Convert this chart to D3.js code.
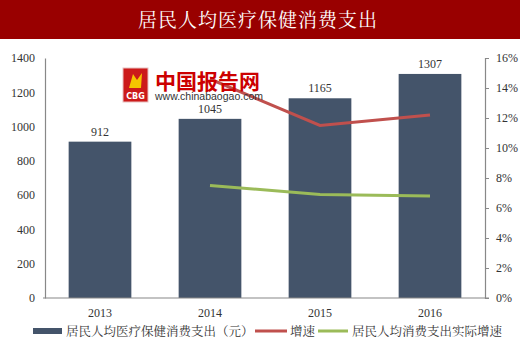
<!DOCTYPE html>
<html>
<head>
<meta charset="utf-8">
<script src="https://cdn.jsdelivr.net/npm/d3@7"></script>
<style>
  body { margin: 0; background: #fff; }
  svg { display: block; }
</style>
</head>
<body>
<div id="drawing"></div>
<script>
// data
var years = ["2013", "2014", "2015", "2016"];
var spending = [912, 1045, 1165, 1307];
var growth = [null, 14.6, 11.5, 12.2];
var realGrowth = [null, 7.5, 6.9, 6.8];
var leftTicks = [0, 200, 400, 600, 800, 1000, 1200, 1400];
var rightTicks = [0, 2, 4, 6, 8, 10, 12, 14, 16];
var legendNames = ["居民人均医疗保健消费支出（元）", "增速", "居民人均消费支出实际增速"];

var width = 520;
var height = 351;
var margin = {top: 58, right: 35, left: 45};
var serif = "'Liberation Serif', 'Noto Serif CJK SC', serif";
var cjk = "'Noto Sans CJK SC', sans-serif";

var svg = d3.select("#drawing").append("svg")
  .attr("width", width)
  .attr("height", height);

// title bar
svg.append("rect")
  .attr("x", 0).attr("y", 0)
  .attr("width", width).attr("height", 39)
  .attr("fill", "#990000");
svg.append("text")
  .attr("x", 258).attr("y", 27)
  .attr("text-anchor", "middle")
  .attr("fill", "#fff")
  .style("font-family", "'Noto Serif CJK SC', " + cjk)
  .style("font-size", "19px")
  .style("letter-spacing", "1px")
  .text("居民人均医疗保健消费支出");

var innerW = width - margin.left - margin.right;
var innerH = 298 - margin.top;

var g = svg.append("g")
  .attr("transform", `translate(${margin.left}, ${margin.top})`);

var x = d3.scaleBand().domain(years).range([0, innerW]).paddingInner(0.43).paddingOuter(0.215);
var yL = d3.scaleLinear().domain([0, 1400]).range([innerH, 0]);
var yR = d3.scaleLinear().domain([0, 16]).range([innerH, 0]);

// bars
g.selectAll("rect.bar")
  .data(spending)
  .join("rect")
  .attr("class", "bar")
  .attr("x", (d, i) => x(years[i]))
  .attr("y", d => yL(d))
  .attr("width", x.bandwidth())
  .attr("height", d => innerH - yL(d))
  .attr("fill", "#44546a");

g.selectAll("text.val")
  .data(spending)
  .join("text")
  .attr("class", "val")
  .attr("x", (d, i) => x(years[i]) + x.bandwidth() / 2)
  .attr("y", d => yL(d) - 6)
  .attr("text-anchor", "middle")
  .attr("fill", "#333")
  .style("font-family", serif)
  .style("font-size", "12px")
  .text(d => d);

// watermark
var wm = svg.append("g").attr("transform", "translate(123, 68)");
wm.append("rect").attr("width", 25).attr("height", 34).attr("fill", "#cc1a1a")
  .attr("stroke", "#e8c0c0").attr("stroke-width", 1);
wm.append("path").attr("d", "M6 20 L10 6 L14 12 L19 5 L18 20 Z").attr("fill", "#f5c400");
wm.append("text").attr("x", 12.5).attr("y", 31).attr("text-anchor", "middle")
  .attr("fill", "#fff").style("font-family", "'DejaVu Sans', sans-serif")
  .style("font-size", "8px").style("font-weight", "bold").text("CBG");
wm.append("text").attr("x", 32).attr("y", 21)
  .attr("fill", "#cc0000")
  .style("font-family", cjk).style("font-size", "21px").style("font-weight", "bold")
  .text("中国报告网");
wm.append("text").attr("x", 32).attr("y", 32)
  .attr("fill", "#333")
  .style("font-family", "'Liberation Sans', sans-serif").style("font-size", "10.5px")
  .text("www.chinabaogao.com");

// lines
var line = d3.line()
  .defined(d => d[1] != null)
  .x(d => x(d[0]) + x.bandwidth() / 2)
  .y(d => yR(d[1]));

g.append("path")
  .attr("d", line(years.map((yv, i) => [yv, growth[i]])))
  .attr("fill", "none").attr("stroke", "#c0504d").attr("stroke-width", 3);
g.append("path")
  .attr("d", line(years.map((yv, i) => [yv, realGrowth[i]])))
  .attr("fill", "none").attr("stroke", "#9bbb59").attr("stroke-width", 3);

// axes
var leftAxis = g.append("g")
  .call(d3.axisLeft(yL).tickValues(leftTicks).tickFormat(d3.format("d")).tickSize(0).tickPadding(10));
var rightAxis = g.append("g")
  .attr("transform", `translate(${innerW}, 0)`)
  .call(d3.axisRight(yR).tickValues(rightTicks).tickFormat(d => d + "%").tickSize(4).tickPadding(7));
var bottomAxis = g.append("g")
  .attr("transform", `translate(0, ${innerH})`)
  .call(d3.axisBottom(x).tickSize(0).tickPadding(10));

[leftAxis, rightAxis, bottomAxis].forEach(a => {
  a.selectAll(".domain").attr("stroke", "#888").attr("stroke-width", 1.2);
  a.selectAll(".tick line").attr("stroke", "#888");
  a.selectAll("text").attr("fill", "#333")
    .style("font-family", serif).style("font-size", "12px");
});
bottomAxis.select(".domain").attr("d", `M${-2},0H${innerW + 4}`);

// legend
var legend = svg.append("g").attr("transform", "translate(0, 331)");
var items = [
  {x: 33, w: 29, h: 6, color: "#44546a", tx: 66},
  {x: 255, w: 32, h: 3, color: "#c0504d", tx: 290},
  {x: 318, w: 30, h: 3, color: "#9bbb59", tx: 352}
];
items.forEach((it, i) => {
  legend.append("rect")
    .attr("x", it.x).attr("y", -it.h / 2)
    .attr("width", it.w).attr("height", it.h)
    .attr("fill", it.color);
  legend.append("text")
    .attr("x", it.tx).attr("y", 5)
    .attr("fill", "#333")
    .style("font-family", "'Noto Serif CJK SC', " + cjk)
    .style("font-size", "12.5px")
    .text(legendNames[i]);
});
</script>
</body>
</html>
